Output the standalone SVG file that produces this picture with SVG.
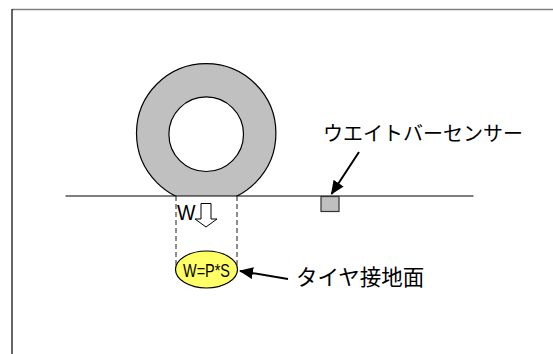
<svg xmlns="http://www.w3.org/2000/svg" width="553" height="354" viewBox="0 0 553 354">
<style>
.lbl{font-family:"Liberation Sans","Noto Sans CJK JP",sans-serif;fill:#000}
.jp{font-family:"Noto Sans CJK JP","Liberation Sans",sans-serif;fill:#000}
.dash{stroke:#444;stroke-width:1.2;stroke-dasharray:5 3;fill:none}
.conn{stroke:#000;stroke-width:2;fill:none;marker-end:url(#ah)}
</style>
<defs>
<marker id="ah" viewBox="0 0 14 12" refX="13" refY="6" markerWidth="14" markerHeight="12" markerUnits="userSpaceOnUse" orient="auto">
<path d="M0,0 L14,6 L0,12 z" fill="#000"/>
</marker>
<clipPath id="above"><rect x="0" y="0" width="553" height="196"/></clipPath>
</defs>
<rect x="0" y="0" width="553" height="354" fill="#fff"/>
<g id="frame">
<line x1="12" y1="9.5" x2="553" y2="9.5" stroke="#808080" stroke-width="1.5"/>
<line x1="12" y1="9" x2="12" y2="354" stroke="#000" stroke-width="1.2"/>
</g>
<g id="dashes">
<line class="dash" x1="176" y1="196" x2="176" y2="268"/>
<line class="dash" x1="237" y1="196" x2="237" y2="268"/>
</g>
<g id="tire">
<circle cx="206.2" cy="133.3" r="69.7" fill="#C0C0C0" stroke="#000" stroke-width="1.2" clip-path="url(#above)"/>
<circle cx="206.2" cy="134.2" r="37.3" fill="#fff" stroke="#000" stroke-width="1.2"/>
</g>
<g id="ground">
<line x1="65.5" y1="196" x2="473.5" y2="196" stroke="#000" stroke-width="1.2"/>
</g>
<g id="sensor">
<rect x="321" y="196.5" width="18" height="15" fill="#C0C0C0" stroke="#333" stroke-width="1.2"/>
</g>
<g id="load">
<text class="lbl" x="177" y="220" font-size="22" textLength="18.5" lengthAdjust="spacingAndGlyphs">W</text>
<polygon points="201,203.5 211,203.5 211,219 217,219 206,227 195,219 201,219" fill="#fff" stroke="#000" stroke-width="1"/>
</g>
<g id="contact">
<ellipse cx="206.5" cy="269.5" rx="31" ry="18.5" fill="#FFFF66" stroke="#000" stroke-width="1.2"/>
<text class="lbl" x="183" y="276.5" font-size="17.5" textLength="47" lengthAdjust="spacingAndGlyphs">W=P*S</text>
</g>
<g id="labels">
<text class="jp" x="323" y="141" font-size="20">ウエイトバーセンサー</text>
<text class="jp" x="296" y="285" font-size="21.5">タイヤ接地面</text>
</g>
<g id="connectors">
<line class="conn" x1="359" y1="152" x2="331.5" y2="194"/>
<line class="conn" x1="288" y1="279" x2="240" y2="271"/>
</g>
</svg>
